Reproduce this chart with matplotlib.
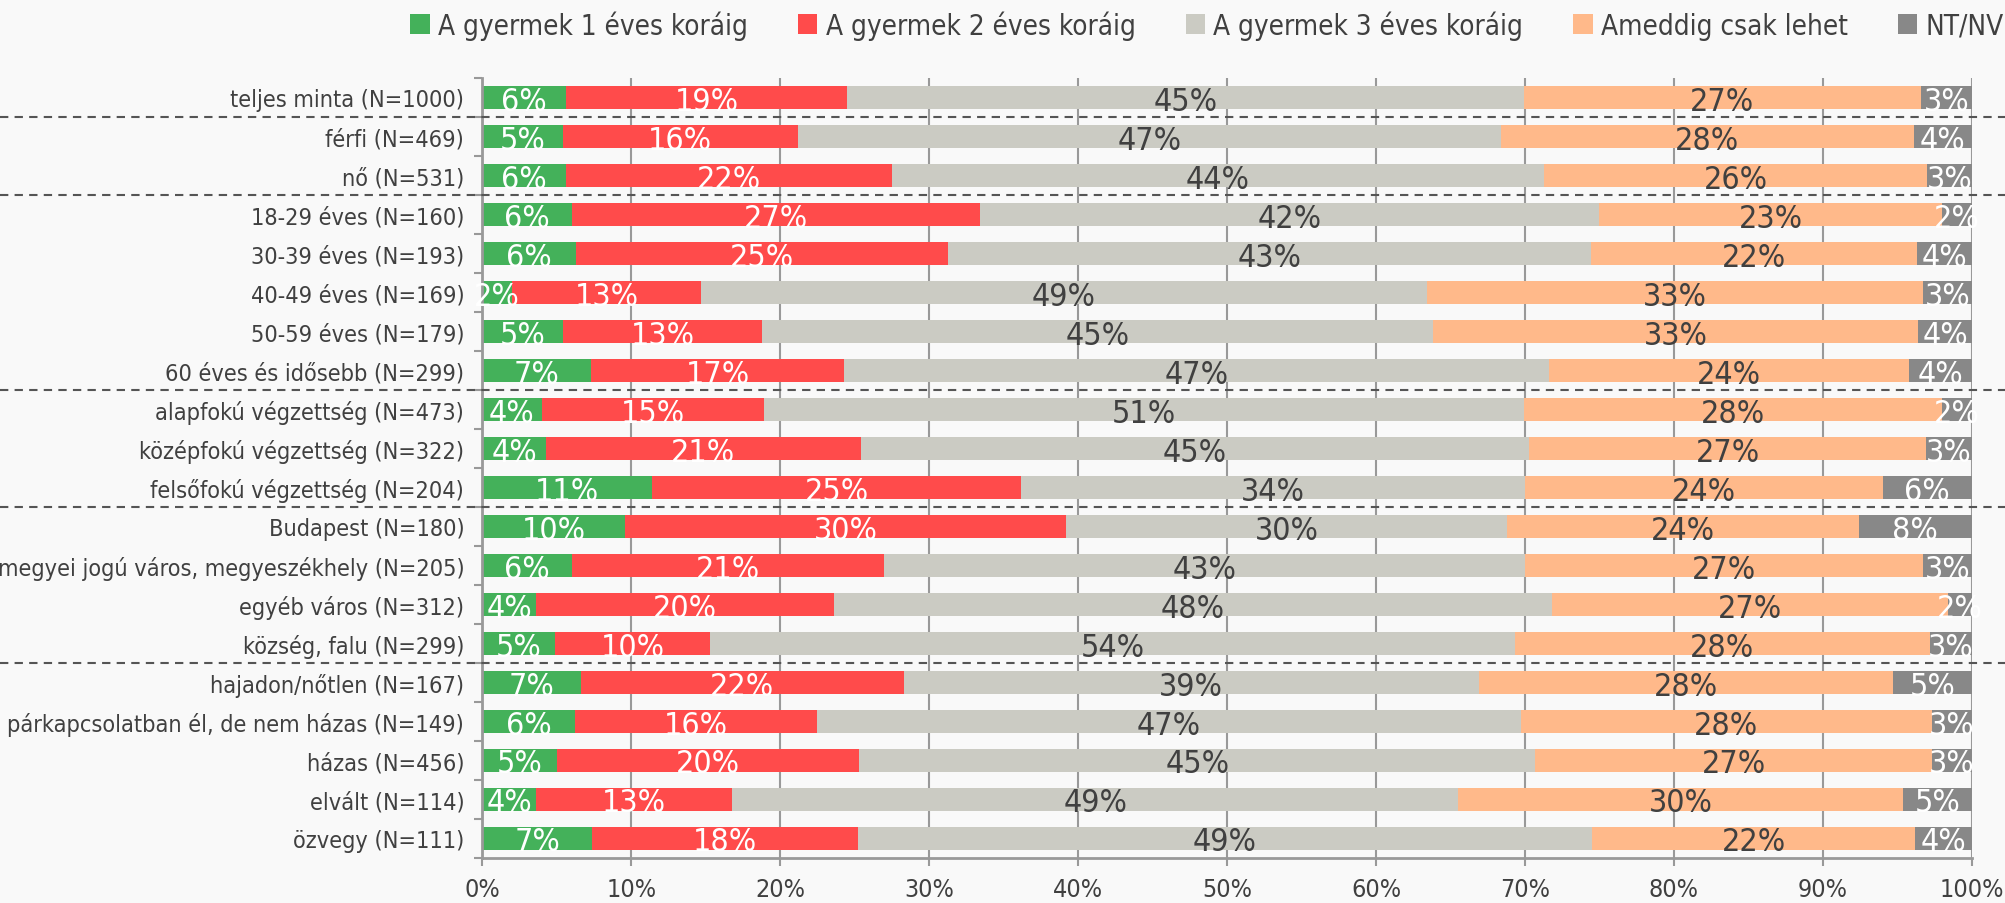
import matplotlib
matplotlib.use("Agg")
import matplotlib.pyplot as plt
from matplotlib.patches import Patch
from matplotlib.lines import Line2D

plt.rcParams['font.family'] = ['DejaVu Sans']
plt.rcParams['font.stretch'] = 'condensed'

categories = [
    "teljes minta (N=1000)", "férfi (N=469)", "nő (N=531)",
    "18-29 éves (N=160)", "30-39 éves (N=193)", "40-49 éves (N=169)",
    "50-59 éves (N=179)", "60 éves és idősebb (N=299)",
    "alapfokú végzettség (N=473)", "középfokú végzettség (N=322)",
    "felsőfokú végzettség (N=204)", "Budapest (N=180)",
    "megyei jogú város, megyeszékhely (N=205)", "egyéb város (N=312)",
    "község, falu (N=299)", "hajadon/nőtlen (N=167)",
    "párkapcsolatban él, de nem házas (N=149)", "házas (N=456)",
    "elvált (N=114)", "özvegy (N=111)",
]
series = ["A gyermek 1 éves koráig", "A gyermek 2 éves koráig",
          "A gyermek 3 éves koráig", "Ameddig csak lehet", "NT/NV"]

ev1 = [5.6, 5.4, 5.6, 6.0, 6.3, 2.0, 5.4, 7.3, 4.0, 4.3, 11.4, 9.6, 6.0, 3.6, 4.9, 6.6, 6.2, 5.0, 3.6, 7.4]
ev2 = [18.9, 15.8, 21.9, 27.4, 25.0, 12.7, 13.4, 17.0, 14.9, 21.1, 24.8, 29.6, 21.0, 20.0, 10.4, 21.7, 16.3, 20.3, 13.2, 17.8]
ev3 = [45.4, 47.2, 43.8, 41.6, 43.1, 48.7, 45.0, 47.3, 51.0, 44.9, 33.8, 29.6, 43.0, 48.2, 54.0, 38.6, 47.2, 45.4, 48.7, 49.3]
ameddig = [26.7, 27.7, 25.7, 23.0, 21.9, 33.3, 32.6, 24.2, 28.1, 26.6, 24.0, 23.6, 26.7, 26.6, 27.9, 27.8, 27.6, 26.6, 29.9, 21.7]
ntnv = [3.4, 3.9, 3.0, 2.0, 3.7, 3.3, 3.6, 4.2, 2.0, 3.1, 6.0, 7.6, 3.3, 1.6, 2.8, 5.3, 2.7, 2.7, 4.6, 3.8]

colors = ["#44B15A", "#FF4B4B", "#CBCBC3", "#FFB98A", "#888888"]
text_colors = ["white", "white", "#404040", "#404040", "white"]
separators = [0, 2, 7, 10, 14]

fig = plt.figure(figsize=(20.05, 9.04), dpi=100, facecolor="#F9F9F9")
ax = fig.add_axes([0.2405, 0.0503, 0.7430, 0.8623])
ax.set_facecolor("#F9F9F9")

y = list(range(len(categories)))
left = [0] * len(categories)
for vals, col, tcol, name in zip([ev1, ev2, ev3, ameddig, ntnv], colors, text_colors, series):
    ax.barh(y, vals, left=left, height=0.59, color=col, label=name, zorder=2)
    for i, v in enumerate(vals):
        ax.text(left[i] + v / 2, i + 0.1, "%.0f%%" % v, ha="center", va="center",
                color=tcol, fontsize=23, zorder=3)
    left = [a + b for a, b in zip(left, vals)]

ax.set_xlim(0, 100)
ax.set_ylim(len(categories) - 0.5, -0.5)
ax.set_yticks(y)
ax.set_yticklabels(categories, fontsize=16.8, color="#404040")
ax.set_yticks([i + 0.5 for i in range(-1, len(categories))], minor=True)
ax.tick_params(axis="y", which="major", length=0, pad=13)
ax.tick_params(axis="y", which="minor", length=6, color="#999999", width=1.5)
ax.set_xticks(range(0, 101, 10))
ax.set_xticklabels(["%d%%" % t for t in range(0, 101, 10)], fontsize=18, color="#404040")
ax.tick_params(axis="x", length=6, color="#999999", width=1.5, pad=8)
ax.grid(axis="x", color="#999999", linewidth=1.5, zorder=0)
for s in ["top", "right"]:
    ax.spines[s].set_visible(False)
for s in ["left", "bottom"]:
    ax.spines[s].set_color("#999999")
    ax.spines[s].set_linewidth(2)

# dashed group separators across whole figure
trans = matplotlib.transforms.blended_transform_factory(fig.transFigure, ax.transData)
for r in separators:
    ax.add_line(Line2D([0, 1], [r + 0.5, r + 0.5], transform=trans, color="#555555",
                       linestyle=(0, (4, 3)), linewidth=1.5, clip_on=False, zorder=4))

handles = [Patch(facecolor=c) for c in colors]
fig.legend(handles, series, loc="upper right", bbox_to_anchor=(1.012, 1.015), ncol=5,
           frameon=False, fontsize=20, handlelength=0.7, handleheight=0.7,
           handletextpad=0.3, columnspacing=1.8, labelcolor="#404040")

fig.savefig("out.png", dpi=100, facecolor=fig.get_facecolor())
